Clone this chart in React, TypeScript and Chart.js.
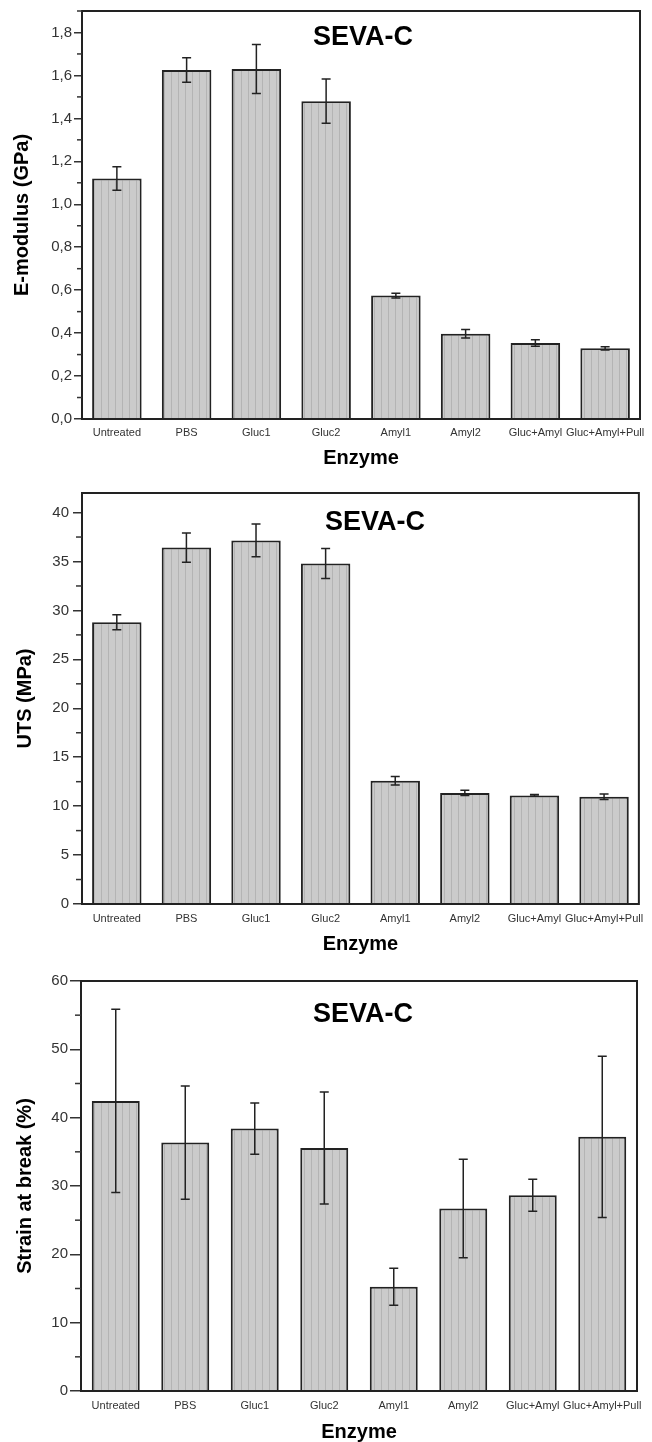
import React, { useEffect, useRef } from 'react';
import { Chart, registerables } from 'chart.js';

Chart.register(...registerables);

const categories = ['Untreated', 'PBS', 'Gluc1', 'Gluc2', 'Amyl1', 'Amyl2', 'Gluc+Amyl', 'Gluc+Amyl+Pull'];

const eModulus = [1.12, 1.625, 1.63, 1.48, 0.575, 0.397, 0.354, 0.329];
const eModulusErr = [0.055, 0.057, 0.114, 0.103, 0.011, 0.02, 0.015, 0.008];

const uts = [28.8, 36.42, 37.15, 34.8, 12.6, 11.35, 11.1, 10.95];
const utsErr = [0.77, 1.5, 1.67, 1.53, 0.43, 0.27, 0.08, 0.28];

const strain = [42.45, 36.35, 38.4, 35.55, 15.25, 26.7, 28.65, 37.2];
const strainErr = [13.4, 8.3, 3.75, 8.2, 2.7, 7.2, 2.35, 11.8];

const panelTitle = 'SEVA-C';
const xTitle = 'Enzyme';

const FONT = '"Liberation Sans", Arial, Helvetica, sans-serif';

type Cfg = {
  top: number;
  height: number;
  values: number[];
  errors: number[];
  yTitle: string;
  yMax: number;
  step: number;
  minorStep: number;
  decimals: number;
  padTop: number;
  padRight: number;
  yWidth: number;
  xHeight: number;
  tickLen: number;
  tickPad: number;
  minorLen: number;
  yTitlePad: number;
  xTitlePad: number;
  xLabelPad: number;
  titleX: number;
  titleY: number;
  barPct: number;
};

const panels: Cfg[] = [
  {
    top: 0, height: 470, values: eModulus, errors: eModulusErr, yTitle: 'E-modulus (GPa)',
    yMax: 1.9, step: 0.2, minorStep: 0.1, decimals: 1,
    padTop: 7, padRight: 12, yWidth: 82, xHeight: 51, tickLen: 8, tickPad: 2, minorLen: 5,
    yTitlePad: 12, xTitlePad: 2, xLabelPad: 7, titleX: 313, titleY: 45, barPct: 0.71,
  },
  {
    top: 470, height: 488, values: uts, errors: utsErr, yTitle: 'UTS (MPa)',
    yMax: 42, step: 5, minorStep: 2.5, decimals: 0,
    padTop: 23, padRight: 13, yWidth: 82, xHeight: 54, tickLen: 9, tickPad: 4, minorLen: 6,
    yTitlePad: 15, xTitlePad: 4, xLabelPad: 8, titleX: 325, titleY: 60, barPct: 0.71,
  },
  {
    top: 958, height: 484, values: strain, errors: strainErr, yTitle: 'Strain at break (%)',
    yMax: 60, step: 10, minorStep: 5, decimals: 0,
    padTop: 23, padRight: 15, yWidth: 81, xHeight: 51, tickLen: 11, tickPad: 2, minorLen: 6,
    yTitlePad: 15, xTitlePad: 0, xLabelPad: 8, titleX: 313, titleY: 64, barPct: 0.69,
  },
];

function Panel({ cfg }: { cfg: Cfg }) {
  const ref = useRef<HTMLCanvasElement | null>(null);

  useEffect(() => {
    const canvas = ref.current;
    if (!canvas) return;
    const ctx0 = canvas.getContext('2d')!;

    const pc = document.createElement('canvas');
    pc.width = 7;
    pc.height = 4;
    const pg = pc.getContext('2d')!;
    pg.fillStyle = '#cbcbcb';
    pg.fillRect(0, 0, 7, 4);
    pg.fillStyle = '#b4b4b4';
    pg.fillRect(3, 0, 1, 4);
    const pattern = ctx0.createPattern(pc, 'repeat');

    const minorVals: number[] = [];
    for (let v = cfg.minorStep; v < cfg.yMax; v += cfg.step) minorVals.push(v);

    const decor = {
      id: 'decor',
      afterDatasetsDraw(chart: any) {
        const { ctx, chartArea: a, scales } = chart;
        const y = scales.y;
        const meta = chart.getDatasetMeta(0);
        ctx.save();
        ctx.strokeStyle = '#222';
        ctx.lineWidth = 1.5;
        meta.data.forEach((el: any, i: number) => {
          const v = cfg.values[i];
          const e = cfg.errors[i];
          const yt = y.getPixelForValue(v + e);
          const yb = y.getPixelForValue(v - e);
          const x = el.x;
          ctx.beginPath();
          ctx.moveTo(x, yt);
          ctx.lineTo(x, yb);
          ctx.moveTo(x - 4.5, yt);
          ctx.lineTo(x + 4.5, yt);
          ctx.moveTo(x - 4.5, yb);
          ctx.lineTo(x + 4.5, yb);
          ctx.stroke();
        });
        ctx.lineWidth = 2;
        ctx.strokeStyle = '#222';
        ctx.strokeRect(a.left, a.top, a.right - a.left, a.bottom - a.top);
        ctx.lineWidth = 1.5;
        ctx.strokeStyle = '#333';
        minorVals.forEach((v) => {
          const py = y.getPixelForValue(v);
          ctx.beginPath();
          ctx.moveTo(a.left - cfg.minorLen, py);
          ctx.lineTo(a.left, py);
          ctx.stroke();
        });
        ctx.fillStyle = '#000';
        ctx.font = `bold 27px ${FONT}`;
        ctx.textAlign = 'left';
        ctx.textBaseline = 'alphabetic';
        ctx.fillText(panelTitle, cfg.titleX, cfg.titleY);
        ctx.restore();
      },
    };

    const chart = new Chart(canvas, {
      type: 'bar',
      data: {
        labels: categories,
        datasets: [
          {
            data: cfg.values,
            backgroundColor: pattern as any,
            borderColor: '#222',
            borderWidth: 2,
            barPercentage: cfg.barPct,
            categoryPercentage: 1,
          },
        ],
      },
      options: {
        responsive: false,
        animation: false,
        devicePixelRatio: 1,
        layout: { padding: { top: cfg.padTop, right: cfg.padRight, left: 0, bottom: 0 } },
        plugins: {
          legend: { display: false },
          tooltip: { enabled: false },
        },
        scales: {
          x: {
            type: 'category',
            grid: { display: false, drawTicks: false },
            border: { display: false },
            ticks: {
              autoSkip: false,
              maxRotation: 0,
              minRotation: 0,
              padding: cfg.xLabelPad,
              color: '#333',
              font: { family: FONT, size: 11 },
            },
            title: {
              display: true,
              text: xTitle,
              color: '#000',
              font: { family: FONT, size: 20, weight: 'bold', lineHeight: 1 },
              padding: { top: 0, bottom: cfg.xTitlePad },
            },
            afterFit: (s: any) => {
              s.height = cfg.xHeight;
            },
          },
          y: {
            type: 'linear',
            min: 0,
            max: cfg.yMax,
            grid: {
              drawOnChartArea: false,
              drawTicks: true,
              tickLength: cfg.tickLen,
              color: '#333',
              lineWidth: 1.5,
            },
            border: { display: false },
            ticks: {
              stepSize: cfg.step,
              includeBounds: false,
              padding: cfg.tickPad,
              color: '#333',
              font: { family: FONT, size: 15 },
              callback: (v: any) => Number(v).toFixed(cfg.decimals).replace('.', ','),
            },
            title: {
              display: true,
              text: cfg.yTitle,
              color: '#000',
              font: { family: FONT, size: 20, weight: 'bold', lineHeight: 1 },
              padding: { top: cfg.yTitlePad, bottom: 0 },
            },
            afterFit: (s: any) => {
              s.width = cfg.yWidth;
            },
          },
        },
      } as any,
      plugins: [decor],
    });

    return () => chart.destroy();
  }, [cfg]);

  return (
    <canvas
      ref={ref}
      width={652}
      height={cfg.height}
      style={{ position: 'absolute', left: 0, top: cfg.top, width: 652, height: cfg.height }}
    />
  );
}

export default function App() {
  return (
    <div style={{ position: 'absolute', left: 0, top: 0, width: 652, height: 1442, background: '#fff' }}>
      {panels.map((p, i) => (
        <Panel key={i} cfg={p} />
      ))}
    </div>
  );
}
